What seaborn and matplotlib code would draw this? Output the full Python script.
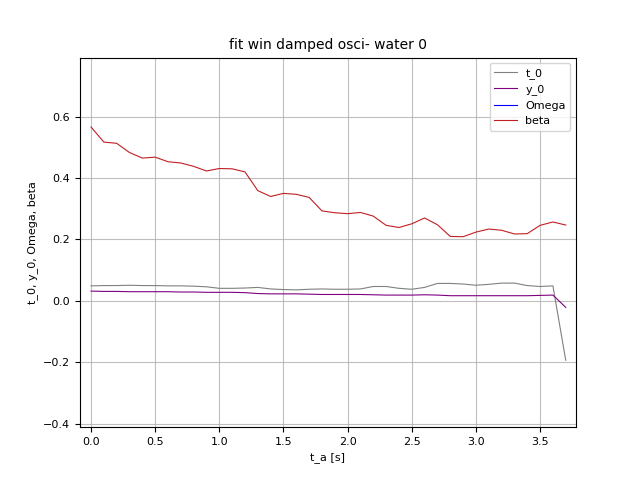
import numpy as np
import pandas as pd
import matplotlib
matplotlib.use("Agg")
import matplotlib.pyplot as plt
import seaborn as sns

# Messwerte
t_a = np.round(np.arange(38) * 0.1, 1)

t_0 = [0.049, 0.050, 0.050, 0.051, 0.050, 0.050, 0.049, 0.049, 0.048, 0.046,
       0.041, 0.041, 0.042, 0.044, 0.039, 0.037, 0.036, 0.038, 0.039, 0.038,
       0.038, 0.039, 0.047, 0.047, 0.041, 0.038, 0.044, 0.057, 0.057, 0.055,
       0.051, 0.054, 0.058, 0.058, 0.050, 0.047, 0.049, -0.193]

y_0 = [0.032, 0.031, 0.031, 0.030, 0.030, 0.030, 0.030, 0.029, 0.029, 0.028,
       0.028, 0.028, 0.027, 0.024, 0.023, 0.023, 0.023, 0.022, 0.021, 0.021,
       0.021, 0.021, 0.020, 0.019, 0.019, 0.019, 0.020, 0.019, 0.017, 0.017,
       0.017, 0.017, 0.017, 0.017, 0.017, 0.018, 0.019, -0.021]

Omega = [np.nan] * 38

beta = [0.566, 0.517, 0.513, 0.483, 0.465, 0.468, 0.453, 0.449, 0.438, 0.423,
        0.431, 0.430, 0.420, 0.359, 0.340, 0.350, 0.347, 0.337, 0.293, 0.287,
        0.284, 0.288, 0.276, 0.246, 0.239, 0.251, 0.270, 0.248, 0.210, 0.209,
        0.224, 0.234, 0.230, 0.218, 0.219, 0.246, 0.257, 0.247]

df = pd.DataFrame({'t_a': t_a, 't_0': t_0, 'y_0': y_0, 'Omega': Omega, 'beta': beta})

fig, ax = plt.subplots(figsize=(6.4, 4.8), dpi=100)

farben = {'t_0': 'gray', 'y_0': 'purple', 'Omega': 'blue', 'beta': '#c01f24'}
for name, farbe in farben.items():
    sns.lineplot(data=df, x='t_a', y=name, color=farbe, linewidth=0.8, label=name, ax=ax)

ax.set_ylim(-0.411, 0.792)
ax.set_xlim(-0.086, 3.78)
ax.grid(True, alpha=0.8)
ax.set_xlabel('t_a [s]', fontsize=8)
ax.set_ylabel('t_0, y_0, Omega, beta', fontsize=8)
ax.tick_params(labelsize=8)
ax.set_title('fit win damped osci- water 0', fontsize=10)
ax.legend(loc='upper right', fontsize=8)

plt.savefig('out.png', dpi=100)
